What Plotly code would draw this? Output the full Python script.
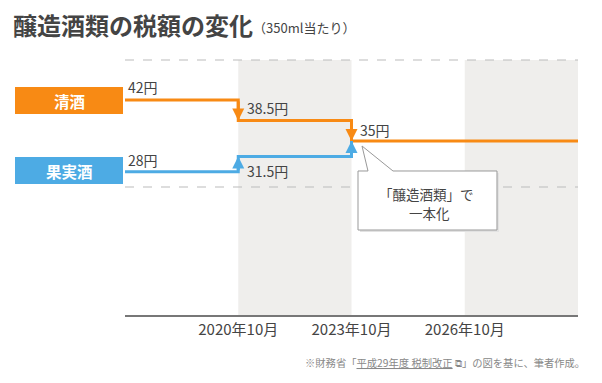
import plotly.graph_objects as go

# ---- data ----
periods = [2017.75, 2020.75, 2023.75, 2029.75]          # start, change dates, end
tick_vals = [2020.75, 2023.75, 2026.75]
tick_text = ["2020年10月", "2023年10月", "2026年10月"]
sake_x = [2017.75, 2020.75, 2023.75, 2029.75]
sake_y = [42, 38.5, 35, 35]
fruit_x = [2017.75, 2020.75, 2023.75]
fruit_y = [28, 31.5, 35]
sake_labels = ["42円", "38.5円", "35円"]
fruit_labels = ["28円", "31.5円"]

ORANGE = "#F88A14"
BLUE = "#4DABE4"
TXT = "#444444"
FONT = "Noto Sans CJK JP"

OFF = 8  # page body margin (left/top)
W, H = 602 - OFF, 383 - OFF
L, R, T, B = 125, 578, 60, 315   # plot area in reference pixels


def px(x):
    return (x - L) / (R - L)


def py(y):
    return (B - y) / (B - T)


fig = go.Figure()

fig.add_trace(go.Scatter(x=sake_x, y=sake_y, mode="lines", line=dict(color=ORANGE, width=3, shape="hv"),
                         hoverinfo="skip", yaxis="y"))
fig.add_trace(go.Scatter(x=fruit_x, y=fruit_y, mode="lines", line=dict(color=BLUE, width=3, shape="hv"),
                         hoverinfo="skip", yaxis="y2"))

ann = []
# arrowheads on vertical steps
for i in range(1, 3):
    ann.append(dict(x=sake_x[i], y=sake_y[i], ax=sake_x[i], ay=sake_y[i - 1], xref="x", yref="y",
                    axref="x", ayref="y", showarrow=True, arrowhead=2, arrowsize=0.8, arrowwidth=3,
                    arrowcolor=ORANGE, text=""))
for i in range(1, 3):
    ann.append(dict(x=fruit_x[i], y=fruit_y[i], ax=fruit_x[i], ay=fruit_y[i - 1], xref="x", yref="y2",
                    axref="x", ayref="y2", showarrow=True, arrowhead=2, arrowsize=0.8, arrowwidth=3,
                    arrowcolor=BLUE, text=""))

# value labels
lab_font = dict(family=FONT, size=14, color=TXT)
ann.append(dict(x=sake_x[0], y=sake_y[0], xref="x", yref="y", text=sake_labels[0], showarrow=False,
                xanchor="left", yanchor="middle", xshift=1, yshift=13, font=lab_font))
ann.append(dict(x=sake_x[1], y=sake_y[1], xref="x", yref="y", text=sake_labels[1], showarrow=False,
                xanchor="left", yanchor="middle", xshift=7, yshift=13, font=lab_font))
ann.append(dict(x=sake_x[2], y=sake_y[2], xref="x", yref="y", text=sake_labels[2], showarrow=False,
                xanchor="left", yanchor="middle", xshift=6, yshift=11, font=lab_font))
ann.append(dict(x=fruit_x[0], y=fruit_y[0], xref="x", yref="y2", text=fruit_labels[0], showarrow=False,
                xanchor="left", yanchor="middle", xshift=1, yshift=12, font=lab_font))
ann.append(dict(x=fruit_x[1], y=fruit_y[1], xref="x", yref="y2", text=fruit_labels[1], showarrow=False,
                xanchor="left", yanchor="middle", xshift=7, yshift=-15, font=lab_font))

# category boxes text
ann.append(dict(x=px(69), y=py(100.5), xref="paper", yref="paper", text="<b>清酒</b>", showarrow=False,
                xanchor="center", yanchor="middle", font=dict(family=FONT, size=15.5, color="white")))
ann.append(dict(x=px(69), y=py(170.5), xref="paper", yref="paper", text="<b>果実酒</b>", showarrow=False,
                xanchor="center", yanchor="middle", font=dict(family=FONT, size=15.5, color="white")))

# callout text (two lines)
call_font = dict(family=FONT, size=13.5, color=TXT)
ann.append(dict(x=px(426), y=py(194), xref="paper", yref="paper", text="「醸造酒類」で",
                showarrow=False, xanchor="center", yanchor="middle", borderpad=0, font=call_font))
ann.append(dict(x=px(429), y=py(212.5), xref="paper", yref="paper", text="一本化",
                showarrow=False, xanchor="center", yanchor="middle", borderpad=0, font=call_font))

# title (main + unit note)
ann.append(dict(x=px(12), y=py(24.5), xref="paper", yref="paper", text="<b>醸造酒類の税額の変化</b>",
                showarrow=False, xanchor="left", yanchor="middle", borderpad=0,
                font=dict(family=FONT, size=24, color=TXT)))
ann.append(dict(x=px(252), y=py(27), xref="paper", yref="paper", text="（350ml当たり）",
                showarrow=False, xanchor="left", yanchor="middle", borderpad=0,
                font=dict(family=FONT, size=13, color=TXT)))

# footnote
ann.append(dict(x=px(587), y=py(362), xref="paper", yref="paper",
                text="※財務省「<u>平成29年度 税制改正</u> ⧉」の図を基に、筆者作成。",
                showarrow=False, xanchor="right", yanchor="middle", font=dict(family=FONT, size=10.3, color="#888888")))

shapes = []
# shaded bands
for x0, x1 in [(tick_vals[0], tick_vals[1]), (tick_vals[2], periods[-1])]:
    shapes.append(dict(type="rect", xref="x", yref="paper", x0=x0, x1=x1, y0=0, y1=1,
                       fillcolor="#EFEEEC", line=dict(width=0), layer="below"))
# dashed guide lines
for yy in [60, 187]:
    shapes.append(dict(type="line", xref="paper", yref="paper", x0=0, x1=1, y0=py(yy), y1=py(yy),
                       line=dict(color="#BBBBBB", width=1.2, dash="dash"), layer="below"))
# category boxes
shapes.append(dict(type="rect", xref="paper", yref="paper", x0=px(15), x1=px(123), y0=py(114), y1=py(87),
                   fillcolor=ORANGE, line=dict(width=0)))
shapes.append(dict(type="rect", xref="paper", yref="paper", x0=px(15), x1=px(123), y0=py(184), y1=py(157),
                   fillcolor=BLUE, line=dict(width=0)))


def path(pts):
    return "M " + " L ".join(f"{px(a):.5f},{py(b):.5f}" for a, b in pts) + " Z"


call = [(358, 171), (368, 171), (362, 146), (393, 171), (497, 171), (497, 230), (358, 230)]
shadow = [(a + 2, b + 2) for a, b in call]
shapes.append(dict(type="path", xref="paper", yref="paper", path=path(shadow), fillcolor="#E2E2E2",
                   line=dict(width=0)))
shapes.append(dict(type="path", xref="paper", yref="paper", path=path(call), fillcolor="white",
                   line=dict(color="#999999", width=1)))

fig.update_layout(
    width=W, height=H,
    margin=dict(l=L - OFF, r=602 - R, t=T - OFF, b=383 - B),
    paper_bgcolor="white", plot_bgcolor="rgba(0,0,0,0)",
    showlegend=False,
    xaxis=dict(range=[periods[0], periods[-1]], tickvals=tick_vals, ticktext=tick_text, showgrid=False,
               zeroline=False, showline=True, linecolor="#777777", linewidth=1.5, ticks="",
               tickfont=dict(family=FONT, size=15, color=TXT), fixedrange=True),
    yaxis=dict(range=[5.31, 48.83], visible=False, showgrid=False, fixedrange=True),
    yaxis2=dict(range=[-4.6, 53.45], visible=False, overlaying="y", showgrid=False, fixedrange=True),
    shapes=shapes,
    annotations=ann,
)

fig.write_html("out.html")
